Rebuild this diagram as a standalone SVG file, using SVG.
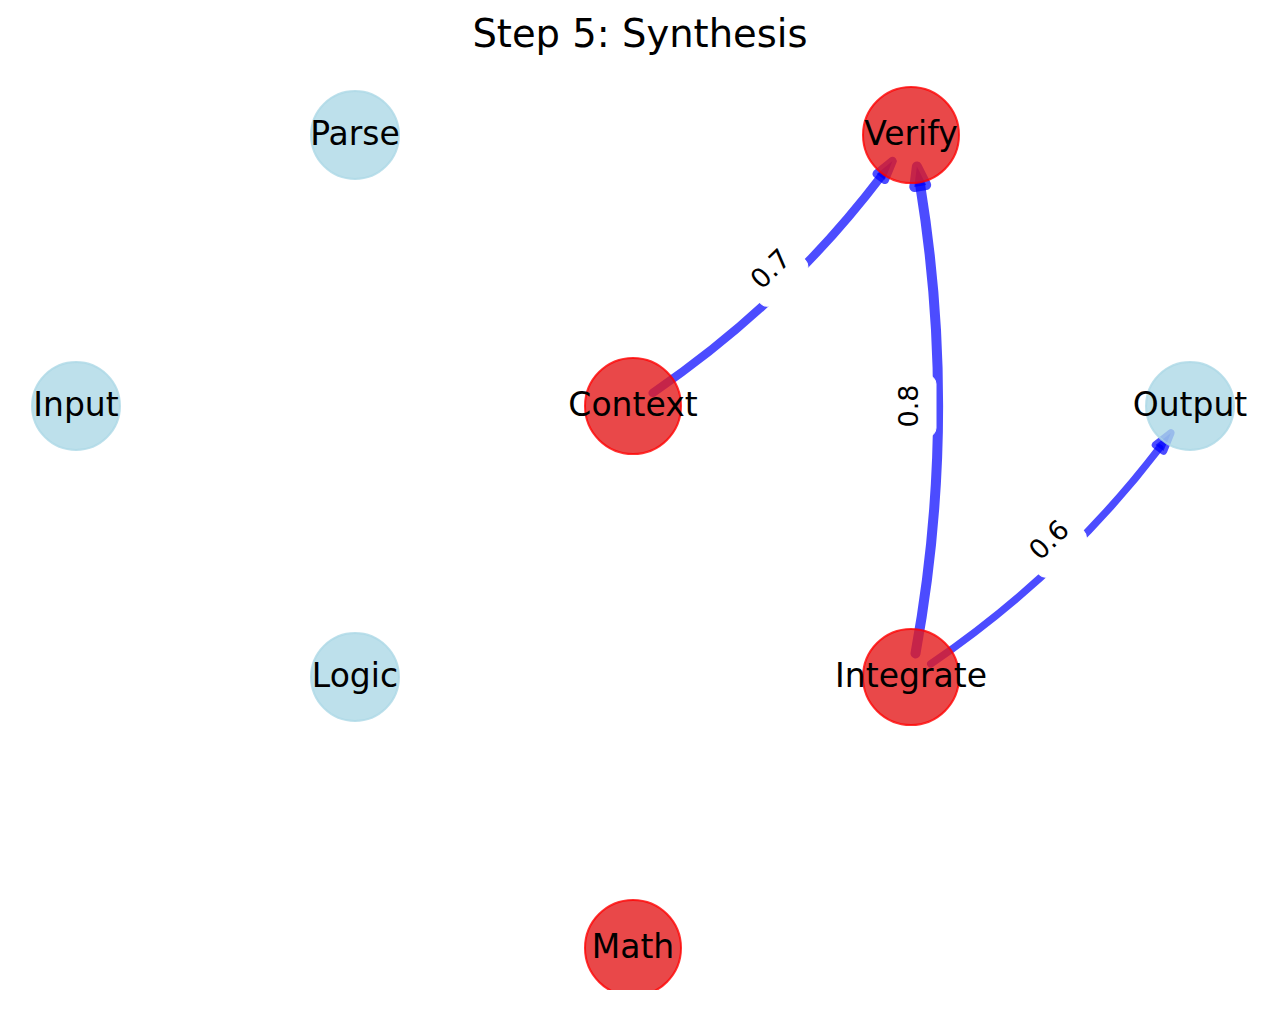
<svg xmlns="http://www.w3.org/2000/svg" width="1280" height="1010" viewBox="0 0 1280 1010">
<style>
  text { font-family: "DejaVu Sans", "Liberation Sans", sans-serif; fill: #000; }
  .title { font-size: 38.5px; text-anchor: middle; }
  .nlabel { font-size: 33px; text-anchor: middle; }
  .elabel { font-size: 27px; text-anchor: middle; }
  .edge { fill: none; stroke: #0000ff; stroke-opacity: 0.7; stroke-linecap: round; }
  .head { fill: #0000ff; fill-opacity: 0.7; stroke: #0000ff; stroke-opacity: 0.7; stroke-linejoin: round; }
  .red { fill: #e41a1c; fill-opacity: 0.8; stroke: #ff0000; stroke-opacity: 0.8; stroke-width: 2; }
  .blue { fill: #add8e6; fill-opacity: 0.8; stroke: #add8e6; stroke-opacity: 0.8; stroke-width: 2; }
  .lbox { fill: #ffffff; stroke: #ffffff; }
</style>
<defs>
  <clipPath id="axes"><rect x="0" y="0" width="1280" height="990"/></clipPath>
</defs>
<rect width="1280" height="1010" fill="#ffffff"/>
<text class="title" x="640" y="47">Step 5: Synthesis</text>

<g id="connectors">
  <g id="edge-context-verify">
    <path class="edge" style="stroke-width:8.5" d="M652.7,392.9 Q784.5,303.1 880.8,176.8"/>
    <polygon class="head" style="stroke-width:8.5" points="892.5,161.1 884.8,179.8 876.7,173.9"/>
  </g>
  <g id="edge-integrate-verify">
    <path class="edge" style="stroke-width:10" d="M915.5,653.5 Q958.2,419.7 920.3,186.0"/>
    <polygon class="head" style="stroke-width:10" points="916.9,166.4 926.2,185.0 914.3,187.0"/>
  </g>
  <g id="edge-integrate-output">
    <path class="edge" style="stroke-width:7.5" d="M930.8,663.9 Q1062.8,574.2 1159.5,448.0"/>
    <polygon class="head" style="stroke-width:7.5" points="1170.9,432.9 1163.5,451.0 1155.5,445.0"/>
  </g>
</g>

<g id="nodes" clip-path="url(#axes)">
  <g id="node-parse"><circle class="blue" cx="355" cy="135" r="44"/></g>
  <g id="node-verify"><circle class="red" cx="911" cy="135" r="48"/></g>
  <g id="node-input"><circle class="blue" cx="76" cy="406" r="44"/></g>
  <g id="node-context"><circle class="red" cx="633" cy="406" r="48"/></g>
  <g id="node-output"><circle class="blue" cx="1190" cy="406" r="44"/></g>
  <g id="node-logic"><circle class="blue" cx="355" cy="677" r="44"/></g>
  <g id="node-integrate"><circle class="red" cx="911" cy="677" r="48"/></g>
  <g id="node-math"><circle class="red" cx="633" cy="948" r="48"/></g>
</g>

<g id="node-labels">
  <text class="nlabel" x="355" y="145">Parse</text>
  <text class="nlabel" x="911" y="145">Verify</text>
  <text class="nlabel" x="76" y="416">Input</text>
  <text class="nlabel" x="633" y="416">Context</text>
  <text class="nlabel" x="1190" y="416">Output</text>
  <text class="nlabel" x="355" y="687">Logic</text>
  <text class="nlabel" x="911" y="687">Integrate</text>
  <text class="nlabel" x="633" y="958">Math</text>
</g>

<g id="edge-labels">
  <g transform="translate(772,270.5) rotate(-44.3)">
    <rect class="lbox" x="-31" y="-23" width="62" height="48" rx="9"/>
    <text class="elabel" y="7">0.7</text>
  </g>
  <g transform="translate(911,406) rotate(-90)">
    <rect class="lbox" x="-31" y="-23" width="62" height="48" rx="9"/>
    <text class="elabel" y="7">0.8</text>
  </g>
  <g transform="translate(1050.5,541.5) rotate(-44.2)">
    <rect class="lbox" x="-31" y="-23" width="62" height="48" rx="9"/>
    <text class="elabel" y="7">0.6</text>
  </g>
</g>
</svg>
